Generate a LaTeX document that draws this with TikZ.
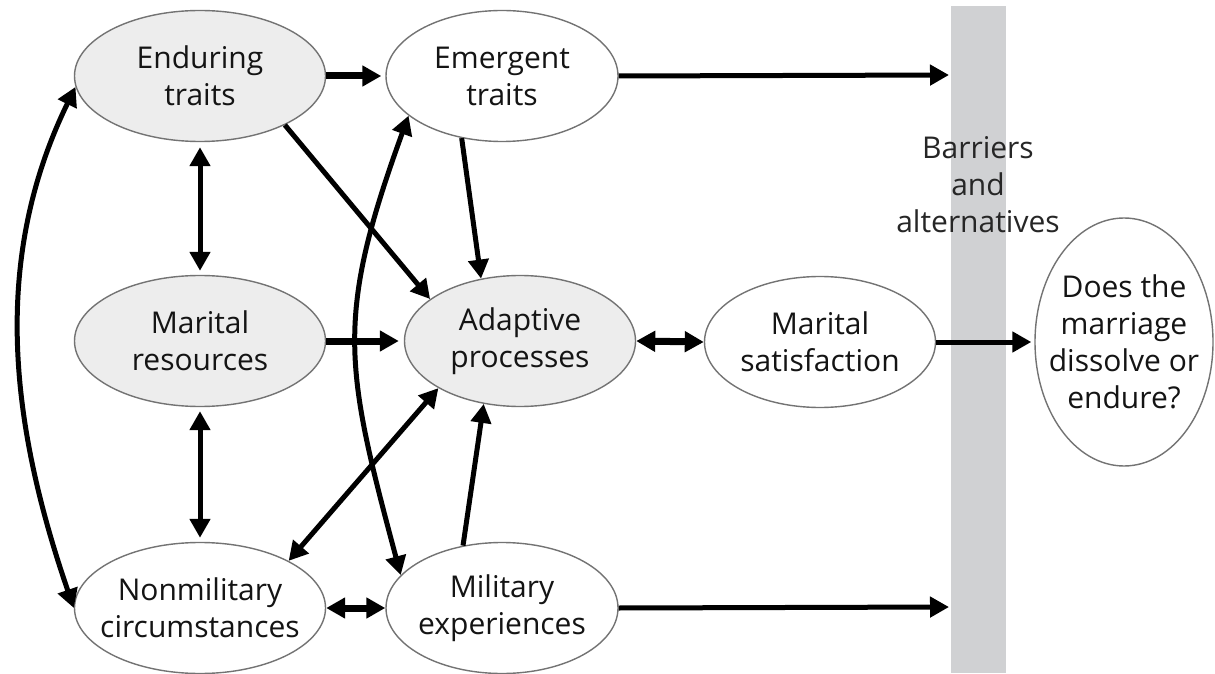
\documentclass[tikz,border=0pt]{standalone}
\usepackage{fontspec}
\setmainfont{Open Sans}
\usetikzlibrary{arrows.meta,shapes.geometric}
\definecolor{barfill}{RGB}{208,209,211}

\begin{document}
\begin{tikzpicture}[x=1pt,y=1pt,
    >={Triangle[length=19pt,width=20pt]},
    oval/.style={ellipse,draw=black!55,line width=1.4pt,fill=white,
      minimum width=232pt,minimum height=131pt,inner xsep=-40pt,inner ysep=0pt,
      align=center,text=black!92,font=\fontsize{30}{37}\selectfont},
    shaded/.style={oval,fill=black!7},
    link/.style={line width=5pt},
    heavy/.style={line width=7pt}]
  \useasboundingbox (0,0) rectangle (1215,673);
  % barrier strip
  \fill[barfill] (951,0) rectangle (1006,667);
  \node[text=black!85,align=center,font=\fontsize{30}{37}\selectfont] (barrier) at (978,488)
    {Barriers\\and\\alternatives};
  % ellipses
  \node[shaded,minimum width=251pt] (enduring) at (200,597) {Enduring\\traits};
  \node[oval] (emergent) at (502,597) {Emergent\\traits};
  \node[shaded,minimum width=251pt] (resources) at (200,332) {Marital\\resources};
  \node[shaded,minimum width=231pt] (adaptive) at (520,332) {Adaptive\\processes};
  \node[oval,minimum width=231pt] (satisfaction) at (820,331) {Marital\\satisfaction};
  \node[oval,minimum width=251pt] (nonmilitary) at (200,65) {Nonmilitary\\circumstances};
  \node[oval] (military) at (502,65) {Military\\experiences};
  \node[oval,minimum width=178pt,minimum height=248pt] (outcome) at (1124,331)
    {Does the\\marriage\\dissolve or\\endure?};
  \coordinate (topstop) at (949,598);
  \coordinate (botstop) at (949,66);
  % straight connectors
  \draw[heavy,->,shorten >=4pt] (enduring.east) -- (emergent.west);
  \draw[heavy,->,shorten >=5pt] (resources.east) -- (adaptive.west);
  \draw[heavy,<->] (adaptive.east) -- (satisfaction.west);
  \draw[heavy,<->] (nonmilitary.east) -- (military.west);
  \draw[link,->] (emergent.east) -- (topstop);
  \draw[link,->] (military.east) -- (botstop);
  \draw[link,->,shorten >=3pt] (satisfaction.east) -- (outcome.west);
  \draw[link,<->,shorten <=5pt,shorten >=4pt] (enduring.south) -- (resources.north);
  \draw[link,<->,shorten <=4pt,shorten >=4pt] (resources.south) -- (nonmilitary.north);
  \draw[link,->] (enduring.-30) -- (adaptive.155);
  \draw[link,->] (emergent.-123) -- (adaptive.122);
  \draw[link,->] (military.122) -- (adaptive.-120);
  \draw[link,<->] (nonmilitary.28) -- (adaptive.-150);
  % curved connectors
  \draw[link,<->] (enduring.185) to[out=244,in=109,looseness=0.95] (nonmilitary.180);
  \draw[link,<->] (emergent.203) to[out=250,in=105,looseness=1.2] (military.162);
\end{tikzpicture}
\end{document}
